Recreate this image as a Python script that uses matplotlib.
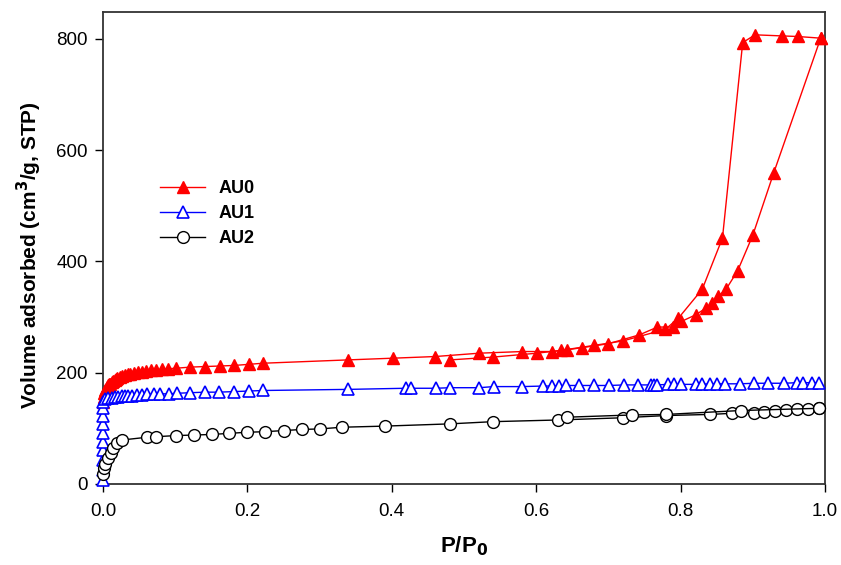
import matplotlib
matplotlib.use("Agg")
import matplotlib.pyplot as plt
from matplotlib.lines import Line2D

plt.rcParams['font.family'] = ['Liberation Sans', 'DejaVu Sans']

# ---------------- data ----------------
# AU0 adsorption branch
au0_ads_p = [0.0005, 0.001, 0.002, 0.003, 0.004, 0.005, 0.006, 0.007, 0.008, 0.009,
             0.010, 0.012, 0.014, 0.016, 0.018, 0.020, 0.023, 0.026, 0.030, 0.034,
             0.038, 0.043, 0.048, 0.054, 0.060, 0.067, 0.074, 0.082, 0.090, 0.101,
             0.121, 0.141, 0.162, 0.182, 0.202, 0.222, 0.340, 0.401, 0.460, 0.521,
             0.581, 0.622, 0.642, 0.664, 0.700, 0.743, 0.768, 0.789, 0.801, 0.821,
             0.835, 0.844, 0.852, 0.863, 0.879, 0.900, 0.929, 0.994]
au0_ads_v = [148, 156, 163, 168, 171, 173, 175, 177, 178, 179,
             180, 183, 185, 187, 189, 191, 193, 194, 196, 197,
             198, 200, 201, 202, 203, 204, 205, 206, 207, 208,
             210, 211, 212, 213, 215, 217, 223, 226, 229, 235,
             238, 238, 241, 245, 252, 268, 282, 282, 292, 304,
             316, 325, 337, 350, 383, 447, 559, 801]
# AU0 desorption branch
au0_des_p = [0.994, 0.962, 0.941, 0.903, 0.886, 0.858, 0.830, 0.797, 0.779, 0.720,
             0.680, 0.634, 0.601, 0.540, 0.481]
au0_des_v = [801, 804, 805, 807, 793, 442, 350, 298, 278, 257,
             249, 240, 235, 228, 223]

# AU1
au1_p = [0.0, 0.0, 0.0, 0.0, 0.0, 0.0, 0.0, 0.0, 0.0, 0.0005,
         0.003, 0.007, 0.012, 0.017, 0.021, 0.026, 0.031, 0.035, 0.040, 0.047,
         0.054, 0.061, 0.070, 0.079, 0.091, 0.102, 0.121, 0.141, 0.160, 0.181,
         0.202, 0.222, 0.340, 0.419, 0.426, 0.461, 0.481, 0.521, 0.541, 0.580,
         0.610, 0.622, 0.631, 0.641, 0.659, 0.680, 0.701, 0.722, 0.741, 0.759,
         0.763, 0.768, 0.782, 0.791, 0.801, 0.821, 0.830, 0.841, 0.851, 0.861,
         0.882, 0.902, 0.921, 0.943, 0.961, 0.970, 0.982, 0.992]
au1_v = [7, 25, 43, 61, 76, 92, 107, 122, 136, 148,
         152, 154, 155, 156, 157, 158, 158, 159, 159, 160,
         160, 161, 161, 162, 162, 163, 164, 165, 165, 166,
         167, 168, 170, 172, 172, 172, 173, 173, 175, 175,
         176, 176, 176, 177, 177, 177, 177, 178, 178, 178,
         178, 178, 179, 179, 179, 179, 179, 180, 180, 180,
         180, 181, 181, 181, 182, 182, 182, 182]

# AU2 adsorption
au2_ads_p = [0.0, 0.001, 0.003, 0.007, 0.011, 0.014, 0.020, 0.026, 0.061, 0.074,
             0.101, 0.126, 0.151, 0.175, 0.200, 0.225, 0.250, 0.276, 0.301, 0.331,
             0.390, 0.480, 0.540, 0.630, 0.720, 0.780, 0.841, 0.871, 0.901, 0.916,
             0.931, 0.946, 0.961, 0.976, 0.991]
au2_ads_v = [18, 28, 36, 46, 55, 64, 73, 79, 84, 85,
             87, 88, 89, 91, 93, 94, 96, 98, 99, 102,
             104, 108, 112, 115, 119, 123, 125, 127, 128, 130,
             132, 133, 134, 135, 136]
# AU2 desorption
au2_des_p = [0.991, 0.883, 0.780, 0.732, 0.642]
au2_des_v = [136, 132, 125, 124, 120]

x_ticks = [0.0, 0.2, 0.4, 0.6, 0.8, 1.0]
y_ticks = [0, 200, 400, 600, 800]
labels = ['AU0', 'AU1', 'AU2']

# ---------------- figure ----------------
fig = plt.figure(figsize=(8.41, 5.65), dpi=100)
ax = fig.add_axes([103/841, (565-484)/565, 722/841, 472/565])

ms = 8.5
red, blue = '#ff0000', '#0000ff'
kw_line = dict(lw=1.0, clip_on=False)

ax.plot(au0_ads_p, au0_ads_v, color=red, marker='^', ms=ms, mfc=red, mec=red,
        zorder=3, **kw_line)
ax.plot(au0_des_p, au0_des_v, color=red, marker='^', ms=ms, mfc=red, mec=red,
        zorder=3, **kw_line)
ax.plot(au1_p, au1_v, color=blue, marker='^', ms=ms, mfc='white', mec=blue,
        mew=1.2, zorder=4, **kw_line)
ax.plot(au2_ads_p, au2_ads_v, color='black', marker='o', ms=ms, mfc='white',
        mec='black', mew=1.0, zorder=5, **kw_line)
ax.plot(au2_des_p, au2_des_v, color='black', marker='o', ms=ms, mfc='white',
        mec='black', mew=1.0, zorder=5, **kw_line)

ax.set_xlim(0, 1.0)
ax.set_ylim(0, 848)
ax.set_xticks(x_ticks)
ax.set_xticklabels([f'{t:.1f}' for t in x_ticks])
ax.set_yticks(y_ticks)
ax.set_yticklabels([str(t) for t in y_ticks])
ax.tick_params(direction='out', length=6, width=1.0, labelsize=13.5, colors='black')
ax.tick_params(axis='x', pad=8)
ax.tick_params(axis='y', pad=5)
for s in ax.spines.values():
    s.set_linewidth(1.3)
    s.set_color('#333333')

ax.set_xlabel(r'P/P$_\mathbf{0}$', fontsize=16, fontweight='bold', labelpad=10)
ax.set_ylabel(r'Volume adsorbed (cm$^\mathbf{3}$/g, STP)', fontsize=15,
              fontweight='bold')
ax.yaxis.set_label_coords(-0.082, 0.485)

handles = [
    Line2D([], [], color=red, marker='^', ms=ms, mfc=red, mec=red, lw=1.0),
    Line2D([], [], color=blue, marker='^', ms=ms, mfc='white', mec=blue, mew=1.2, lw=1.0),
    Line2D([], [], color='black', marker='o', ms=ms, mfc='white', mec='black', lw=1.0),
]
leg = fig.legend(handles, labels, loc='upper left',
                 bbox_to_anchor=(160/841, 1-180/565), frameon=False,
                 borderpad=0, borderaxespad=0, handlelength=2.5,
                 handletextpad=0.75, labelspacing=0.45,
                 prop=dict(size=13, weight='bold'))

fig.savefig('out.png', dpi=100)
